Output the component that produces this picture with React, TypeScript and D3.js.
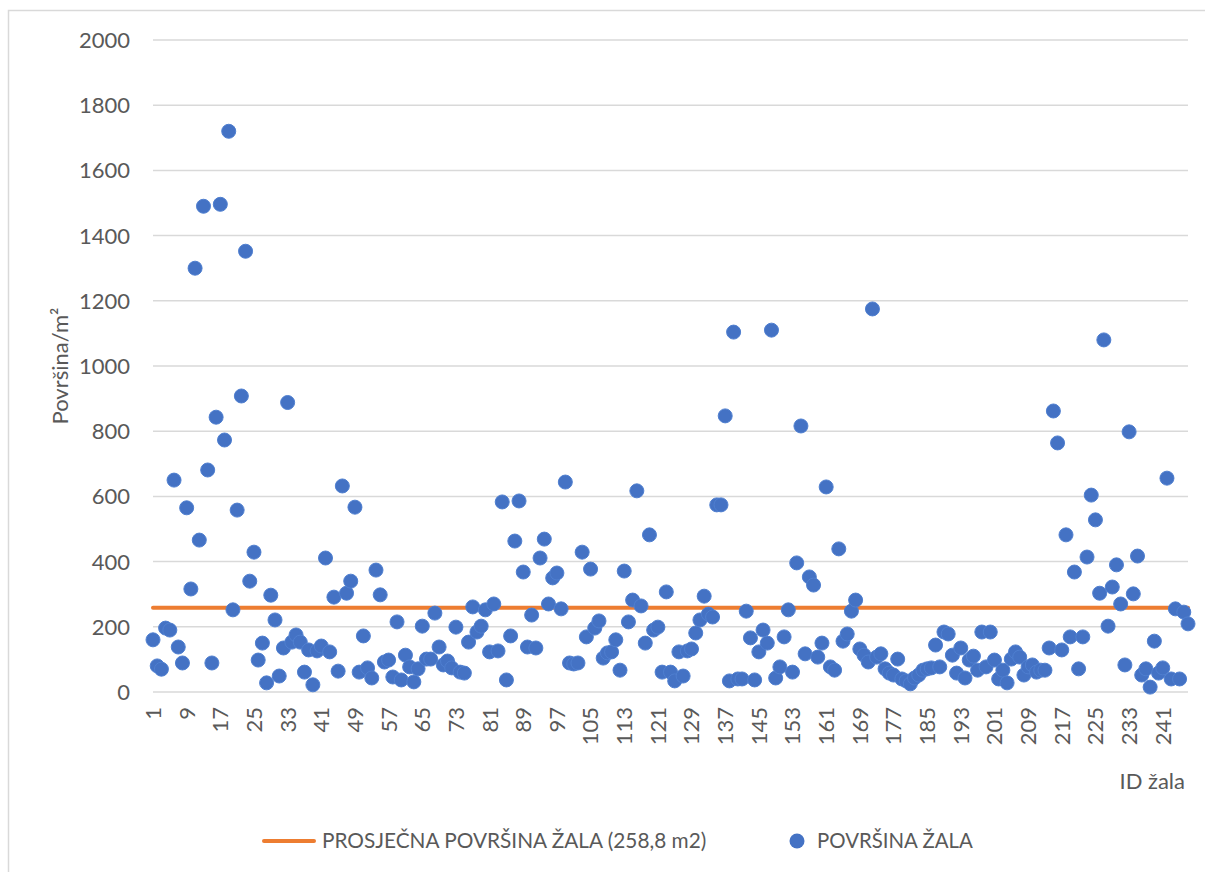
import React, { useRef, useEffect } from "react";
import * as d3 from "d3";

// ID žala 1..247
const ids = d3.range(1, 248);

const povrsina = [
  160, 80, 70, 196, 190, 650, 138, 89, 565, 316,
  1300, 466, 1490, 681, 89, 843, 1496, 773, 1720, 252,
  558, 908, 1352, 340, 429, 98, 150, 28, 297, 221,
  49, 135, 888, 153, 175, 153, 61, 129, 22, 126,
  141, 411, 123, 291, 64, 632, 303, 340, 567, 61,
  172, 74, 43, 374, 298, 92, 98, 46, 215, 37,
  113, 77, 31, 71, 202, 101, 101, 242, 138, 83,
  95, 74, 199, 61, 58, 153, 261, 184, 202, 252,
  123, 270, 126, 583, 37, 172, 463, 586, 368, 138,
  236, 135, 411, 469, 270, 350, 365, 255, 644, 89,
  86, 89, 429, 169, 377, 196, 218, 104, 120, 123,
  160, 67, 371, 215, 282, 617, 264, 150, 482, 190,
  199, 61, 307, 61, 34, 123, 49, 126, 132, 181,
  221, 294, 239, 230, 574, 574, 847, 34, 1104, 40,
  40, 248, 166, 37, 123, 190, 150, 1110, 43, 77,
  169, 252, 61, 396, 816, 117, 353, 328, 107, 150,
  629, 77, 67, 439, 156, 178, 248, 282, 132, 113,
  92, 1175, 107, 117, 71, 58, 52, 101, 40, 34,
  25, 43, 52, 67, 71, 74, 144, 77, 184, 178,
  113, 58, 135, 43, 98, 110, 67, 184, 77, 184,
  98, 40, 67, 28, 101, 123, 107, 52, 77, 83,
  61, 67, 67, 135, 862, 764, 129, 482, 169, 368,
  71, 169, 414, 604, 528, 303, 1080, 202, 322, 390,
  270, 83, 798, 301, 417, 52, 71, 15, 156, 58,
  74, 656, 40, 255, 40, 245, 209,
];

const prosjek = 258.8;

const yTicks = [0, 200, 400, 600, 800, 1000, 1200, 1400, 1600, 1800, 2000];
const xTickLabels = [1, 9, 17, 25, 33, 41, 49, 57, 65, 73, 81, 89, 97, 105, 113, 121, 129, 137, 145, 153, 161, 169, 177, 185, 193, 201, 209, 217, 225, 233, 241];

const legendLine = "PROSJEČNA POVRŠINA ŽALA (258,8 m2)";
const legendDots = "POVRŠINA ŽALA";

function App() {
  const ref = useRef<SVGSVGElement>(null);

  useEffect(() => {
    const svg = d3.select(ref.current);
    svg.selectAll("*").remove();

    const font = "Lato, 'Open Sans', sans-serif";
    const textColor = "#595959";

    const x = d3.scalePoint<number>().domain(ids).range([153, 1188]);
    const y = d3.scaleLinear().domain([0, 2000]).range([692, 40]);

    // chart frame
    svg
      .append("rect")
      .attr("x", 8.5)
      .attr("y", 10.5)
      .attr("width", 1210)
      .attr("height", 880)
      .style("fill", "white")
      .style("stroke", "#D9D9D9")
      .style("stroke-width", 1.5);

    // gridlines + y labels
    const yAxis = svg.append("g").attr("class", "y-axis");
    yAxis
      .selectAll("line")
      .data(yTicks)
      .join("line")
      .attr("x1", 153)
      .attr("x2", 1188)
      .attr("y1", (d) => y(d))
      .attr("y2", (d) => y(d))
      .style("stroke", "#D9D9D9")
      .style("stroke-width", 1.5);
    yAxis
      .selectAll("text")
      .data(yTicks)
      .join("text")
      .attr("x", 130)
      .attr("y", (d) => y(d))
      .attr("dy", "0.36em")
      .attr("text-anchor", "end")
      .style("font-family", font)
      .style("font-size", "22px")
      .style("fill", textColor)
      .text((d) => d);

    // x tick labels
    svg
      .append("g")
      .attr("class", "x-axis")
      .selectAll("text")
      .data(xTickLabels)
      .join("text")
      .attr("transform", (d) => `translate(${x(d)},707) rotate(-90)`)
      .attr("dy", "0.36em")
      .attr("text-anchor", "end")
      .style("font-family", font)
      .style("font-size", "22px")
      .style("fill", textColor)
      .text((d) => d);

    // axis titles
    svg
      .append("text")
      .attr("transform", "translate(68,366) rotate(-90)")
      .attr("text-anchor", "middle")
      .style("font-family", font)
      .style("font-size", "22px")
      .style("fill", textColor)
      .text("Površina/m²");

    svg
      .append("text")
      .attr("x", 1185)
      .attr("y", 789)
      .attr("text-anchor", "end")
      .style("font-family", font)
      .style("font-size", "22px")
      .style("fill", textColor)
      .text("ID žala");

    // average line
    svg
      .append("line")
      .attr("x1", x(ids[0]))
      .attr("x2", x(ids[ids.length - 1]))
      .attr("y1", y(prosjek))
      .attr("y2", y(prosjek))
      .style("stroke", "#ED7D31")
      .style("stroke-width", 4)
      .style("stroke-linecap", "round");

    // points
    svg
      .append("g")
      .selectAll("circle")
      .data(povrsina)
      .join("circle")
      .attr("cx", (d, i) => x(ids[i]))
      .attr("cy", (d) => y(d))
      .attr("r", 7)
      .style("fill", "#4472C4")
      .style("stroke", "#4F7FD0")
      .style("stroke-width", 1);

    // legend
    const legend = svg.append("g").attr("class", "legend");
    legend
      .append("line")
      .attr("x1", 264)
      .attr("x2", 314)
      .attr("y1", 841)
      .attr("y2", 841)
      .style("stroke", "#ED7D31")
      .style("stroke-width", 4)
      .style("stroke-linecap", "round");
    legend
      .append("text")
      .attr("x", 322)
      .attr("y", 841)
      .attr("dy", "0.36em")
      .style("font-family", font)
      .style("font-size", "20.8px")
      .style("fill", textColor)
      .text(legendLine);
    legend
      .append("circle")
      .attr("cx", 797)
      .attr("cy", 841)
      .attr("r", 7.5)
      .style("fill", "#4472C4");
    legend
      .append("text")
      .attr("x", 817)
      .attr("y", 841)
      .attr("dy", "0.36em")
      .style("font-family", font)
      .style("font-size", "20.4px")
      .style("fill", textColor)
      .text(legendDots);
  }, []);

  return (
    <svg
      ref={ref}
      width="1205"
      height="872"
      style={{ position: "absolute", left: 0, top: 0 }}
    ></svg>
  );
}

export default App;
